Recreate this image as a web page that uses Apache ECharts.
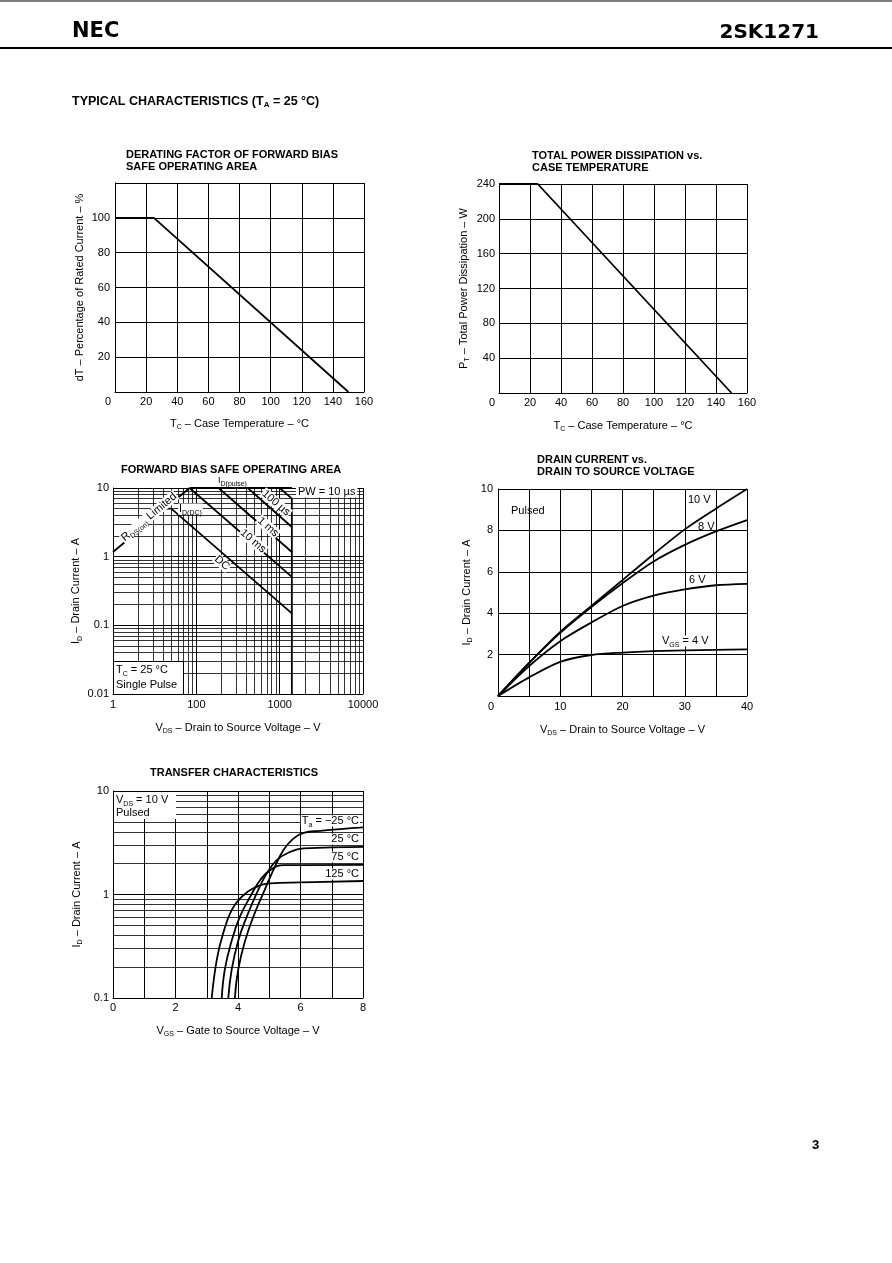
<!DOCTYPE html>
<html><head><meta charset="utf-8">
<script src="https://cdn.jsdelivr.net/npm/echarts@6/dist/echarts.min.js"></script>
<style>html,body{margin:0;padding:0;background:#fff}#c{width:892px;height:1263px}</style>
</head><body><div id="c"></div>
<script>
// ---------- Chart 1: derating factor ----------
const derTemp = [0, 25, 150];
const derPct = [100, 100, 0];
// ---------- Chart 2: total power dissipation ----------
const pdTemp = [0, 25, 150];
const pdWatt = [240, 240, 0];
// ---------- Chart 3: forward bias SOA (V, A) ----------
const soaXTickLabels = ["1", "100", "1000", "10000"];
const rdsV = [10, 83], rdsI = [1.17, 10];
const pulseV = [83, 1400], pulseI = [10, 10];
const dcV = [41.9, 50, 1400], dcI = [5, 5, 0.149];
const ms10V = [83, 1400], ms10I = [10, 0.507];
const ms1V = [185, 1400], ms1I = [10, 1.17];
const us100V = [414, 1400], us100I = [10, 2.70];
const us10V = [1000, 1400], us10I = [10, 7.0];
const vlimV = [1400, 1400], vlimI = [0.01, 7.0];
// ---------- Chart 4: drain current vs VDS ----------
const vds = [0, 5, 10, 15, 20, 25, 30, 35, 40];
const id10V = [0, 1.6, 3.1, 4.35, 5.6, 6.85, 8.05, 9.05, 10];
const id8V  = [0, 1.6, 3.05, 4.3, 5.45, 6.5, 7.3, 7.95, 8.5];
const id6V  = [0, 1.45, 2.65, 3.55, 4.35, 4.85, 5.15, 5.35, 5.42];
const id4V  = [0, 0.9, 1.65, 1.98, 2.1, 2.17, 2.2, 2.23, 2.25];
// ---------- Chart 5: transfer characteristics ----------
const vgsM25 = [3.90, 4.01, 4.23, 4.49, 4.81, 5.13, 5.45, 5.77, 6.10, 6.63, 8.0];
const idM25  = [0.1, 0.19, 0.36, 0.61, 1.03, 1.72, 2.68, 3.47, 3.94, 4.12, 4.45];
const vgs25  = [3.69, 3.80, 4.01, 4.28, 4.60, 4.92, 5.24, 5.67, 6.10, 8.0];
const id25   = [0.1, 0.19, 0.36, 0.61, 1.03, 1.6, 2.15, 2.58, 2.79, 2.89];
const vgs75  = [3.48, 3.58, 3.80, 4.06, 4.39, 4.71, 5.03, 5.45, 8.0];
const id75   = [0.1, 0.19, 0.36, 0.61, 0.95, 1.38, 1.72, 1.92, 1.93];
const vgs125 = [3.16, 3.32, 3.53, 3.80, 4.12, 4.49, 5.03, 6.0, 8.0];
const id125  = [0.1, 0.234, 0.426, 0.71, 0.95, 1.15, 1.28, 1.31, 1.35];

const FONT = '"Liberation Sans", Arial, sans-serif';
const zip = (a, b) => a.map((v, i) => [v, b[i]]);

function logMinor(from, to) { // minor grid values within decades
  const out = [];
  for (let d = from; d < to; d *= 10) for (let k = 2; k <= 9; k++) out.push(+(d * k).toPrecision(3));
  return out;
}
const gridLine = { show: true, lineStyle: { color: '#000', width: 1 } };
const sub = { s: { fontSize: 7, fontFamily: FONT, color: '#000', verticalAlign: 'bottom', padding: [0, 0, -2, 0] } };
const nameStyle = { color: '#000', fontSize: 11, fontFamily: FONT, rich: sub };
const labelBase = { color: '#000', fontSize: 11, fontFamily: FONT };
const zeroRich = { z: { padding: [0, 14, 0, 0], fontSize: 11, fontFamily: FONT, color: '#000' } };

function valAxis(gi, min, max, interval, extra) {
  return Object.assign({
    type: 'value', gridIndex: gi, min, max, interval,
    axisLine: { show: true, onZero: false, lineStyle: { color: '#000', width: 1 } },
    axisTick: { show: false }, splitLine: gridLine,
    nameTextStyle: nameStyle, nameLocation: 'middle'
  }, extra);
}
function logAxis(gi, min, max, extra) {
  return Object.assign({
    type: 'log', logBase: 10, gridIndex: gi, min, max,
    axisLine: { show: true, onZero: false, lineStyle: { color: '#000', width: 1 } },
    axisTick: { show: false }, splitLine: gridLine,
    nameTextStyle: nameStyle, nameLocation: 'middle'
  }, extra);
}
const curve = (name, xi, data, extra) => Object.assign({
  name, type: 'line', xAxisIndex: xi, yAxisIndex: xi, data, symbol: 'none',
  lineStyle: { color: '#000', width: 1.8 }, silent: true, animation: false
}, extra);
const minorMark = (vx, vy) => ({
  silent: true, symbol: ['none', 'none'], label: { show: false }, animation: false,
  lineStyle: { color: '#000', width: 0.8, type: 'solid' },
  emphasis: { disabled: true },
  data: vx.map(v => ({ xAxis: v })).concat(vy.map(v => ({ yAxis: v })))
});

const txt = (text, x, y, o) => ({
  type: 'text', x, y, z: 60,
  style: Object.assign({ text, fill: '#000', fontSize: 11, fontFamily: FONT, align: 'left', verticalAlign: 'middle', rich: sub }, o || {})
});
const deg = d => d * Math.PI / 180;
const rot = (text, x, y, a, o) => Object.assign(txt(text, x, y, Object.assign({ align: 'center', backgroundColor: '#fff', padding: [0, 1] }, o || {})), { rotation: deg(a) });
const bold = { fontWeight: 'bold' };

const option = {
  backgroundColor: '#fff',
  animation: false,
  grid: [
    { left: 115, top: 183, width: 249, height: 209 },
    { left: 499, top: 184, width: 248, height: 209 },
    { left: 113, top: 488, width: 250, height: 206 },
    { left: 498, top: 489, width: 249, height: 207 },
    { left: 113, top: 791, width: 250, height: 207 }
  ],
  xAxis: [
    valAxis(0, 0, 160, 20, { name: 'T{s|C} – Case Temperature – °C', nameGap: 26,
      axisLabel: Object.assign({ margin: 4, formatter: v => v === 0 ? '{z|0}' : String(v), rich: zeroRich }, labelBase) }),
    valAxis(1, 0, 160, 20, { name: 'T{s|C} – Case Temperature – °C', nameGap: 27,
      axisLabel: Object.assign({ margin: 4, formatter: v => v === 0 ? '{z|0}' : String(v), rich: zeroRich }, labelBase) }),
    logAxis(2, 10, 10000, { name: 'V{s|DS} – Drain to Source Voltage – V', nameGap: 28,
      axisLabel: Object.assign({ margin: 5, formatter: v => soaXTickLabels[Math.round(Math.log10(v)) - 1] }, labelBase) }),
    valAxis(3, 0, 40, 10, { name: 'V{s|DS} – Drain to Source Voltage – V', nameGap: 28,
      minorTick: { show: false, splitNumber: 2 }, minorSplitLine: gridLine,
      axisLabel: Object.assign({ margin: 5, formatter: v => v === 0 ? '{z|0}' : String(v), rich: zeroRich }, labelBase) }),
    valAxis(4, 0, 8, 2, { name: 'V{s|GS} – Gate to Source Voltage – V', nameGap: 27,
      minorTick: { show: false, splitNumber: 2 }, minorSplitLine: gridLine,
      axisLabel: Object.assign({ margin: 4 }, labelBase) })
  ],
  yAxis: [
    valAxis(0, 0, 120, 20, { name: 'dT – Percentage of Rated Current – %', nameGap: 30,
      axisLabel: Object.assign({ margin: 5, formatter: v => (v === 0 || v === 120) ? '' : String(v) }, labelBase) }),
    valAxis(1, 0, 240, 40, { name: 'P{s|T} – Total Power Dissipation – W', nameGap: 30,
      axisLabel: Object.assign({ margin: 4, formatter: v => v === 0 ? '' : String(v) }, labelBase) }),
    logAxis(2, 0.01, 10, { name: 'I{s|D} – Drain Current – A', nameGap: 31,
      axisLabel: Object.assign({ margin: 4 }, labelBase) }),
    valAxis(3, 0, 10, 2, { name: 'I{s|D} – Drain Current – A', nameGap: 26,
      axisLabel: Object.assign({ margin: 5, formatter: v => v === 0 ? '' : String(v) }, labelBase) }),
    logAxis(4, 0.1, 10, { name: 'I{s|D} – Drain Current – A', nameGap: 31,
      axisLabel: Object.assign({ margin: 4 }, labelBase) })
  ],
  series: [
    curve('derating', 0, zip(derTemp, derPct)),
    curve('power', 1, zip(pdTemp, pdWatt)),
    curve('V limit', 2, zip(vlimV, vlimI), { markLine: minorMark(logMinor(10, 10000), logMinor(0.01, 10)) }),
    curve('RDS(on) limited', 2, zip(rdsV, rdsI)),
    curve('ID(pulse)', 2, zip(pulseV, pulseI)),
    curve('DC', 2, zip(dcV, dcI)),
    curve('10 ms', 2, zip(ms10V, ms10I)),
    curve('1 ms', 2, zip(ms1V, ms1I)),
    curve('100 us', 2, zip(us100V, us100I)),
    curve('10 us', 2, zip(us10V, us10I)),
    curve('10 V', 3, zip(vds, id10V), { smooth: 0.3 }),
    curve('8 V', 3, zip(vds, id8V), { smooth: 0.3 }),
    curve('6 V', 3, zip(vds, id6V), { smooth: 0.3 }),
    curve('4 V', 3, zip(vds, id4V), { smooth: 0.3 }),
    curve('-25 C', 4, zip(vgsM25, idM25), { smooth: 0.45, markLine: minorMark([], logMinor(0.1, 10)) }),
    curve('25 C', 4, zip(vgs25, id25), { smooth: 0.45 }),
    curve('75 C', 4, zip(vgs75, id75), { smooth: 0.45 }),
    curve('125 C', 4, zip(vgs125, id125), { smooth: 0.45 })
  ],
  graphic: [
    { type: 'line', z: 60, shape: { x1: 0, y1: 1, x2: 892, y2: 1 }, style: { stroke: '#000', lineWidth: 1 } },
    { type: 'line', z: 60, shape: { x1: 0, y1: 48, x2: 892, y2: 48 }, style: { stroke: '#000', lineWidth: 2 } },
    txt('NEC', 72, 32, { fontSize: 21, fontWeight: 'bold', fontFamily: '"DejaVu Sans", sans-serif' }),
    txt('2SK1271', 819, 33, { align: 'right', fontSize: 20, fontWeight: 'bold', fontFamily: '"DejaVu Sans", sans-serif' }),
    txt('{a|TYPICAL CHARACTERISTICS (T}{b|A}{a| = 25 °C)}', 72, 102, { rich: {
      a: { fontSize: 12.5, fontWeight: 'bold', fontFamily: FONT, color: '#000' },
      b: { fontSize: 8, fontWeight: 'bold', fontFamily: FONT, color: '#000', verticalAlign: 'bottom' } } }),
    txt('3', 812, 1145, { fontSize: 13, fontWeight: 'bold' }),
    // chart titles
    txt('DERATING FACTOR OF FORWARD BIAS', 126, 155, bold),
    txt('SAFE OPERATING AREA', 126, 167, bold),
    txt('TOTAL POWER DISSIPATION vs.', 532, 156, bold),
    txt('CASE TEMPERATURE', 532, 168, bold),
    txt('FORWARD BIAS SAFE OPERATING AREA', 121, 470, bold),
    txt('DRAIN CURRENT vs.', 537, 460, bold),
    txt('DRAIN TO SOURCE VOLTAGE', 537, 472, bold),
    txt('TRANSFER CHARACTERISTICS', 150, 773, bold),
    // SOA annotations
    txt('I{s|D(pulse)}', 218, 481, { fontSize: 9 }),
    txt('I{s|D(DC)}', 178, 509, { backgroundColor: '#fff', padding: [0, 1] }),
    txt('PW = 10 µs', 296, 492, { backgroundColor: '#fff', padding: [0, 2] }),
    rot('100 µs', 276, 503, -41),
    rot('1 ms', 268, 527, -41),
    rot('10 ms', 253, 541, -41),
    rot('DC', 222, 563, -41),
    rot('R{s|DS(on)} Limited', 149, 517, 40),
    { type: 'rect', z: 55, shape: { x: 113.5, y: 661.5, width: 70, height: 33 }, style: { fill: '#fff', stroke: '#000', lineWidth: 1 } },
    txt('T{s|C} = 25 °C', 116, 670),
    txt('Single Pulse', 116, 685),
    // Drain current annotations
    txt('Pulsed', 511, 511),
    txt('10 V', 688, 500),
    txt('8 V', 698, 527),
    txt('6 V', 689, 580),
    txt('V{s|GS} = 4 V', 661, 641, { backgroundColor: '#fff', padding: [0, 1] }),
    // Transfer annotations
    { type: 'rect', z: 55, shape: { x: 114, y: 792, width: 62, height: 27 }, style: { fill: '#fff' } },
    txt('V{s|DS} = 10 V', 116, 800),
    txt('Pulsed', 116, 813),
    txt('T{s|a} = −25 °C', 360, 821, { align: 'right', backgroundColor: '#fff', padding: [0, 1] }),
    txt('25 °C', 360, 839, { align: 'right', backgroundColor: '#fff', padding: [0, 1] }),
    txt('75 °C', 360, 857, { align: 'right', backgroundColor: '#fff', padding: [0, 1] }),
    txt('125 °C', 360, 874, { align: 'right', backgroundColor: '#fff', padding: [0, 1] })
  ]
};
const chart = echarts.init(document.getElementById('c'), null, { renderer: 'canvas' });
chart.setOption(option);
</script></body></html>
